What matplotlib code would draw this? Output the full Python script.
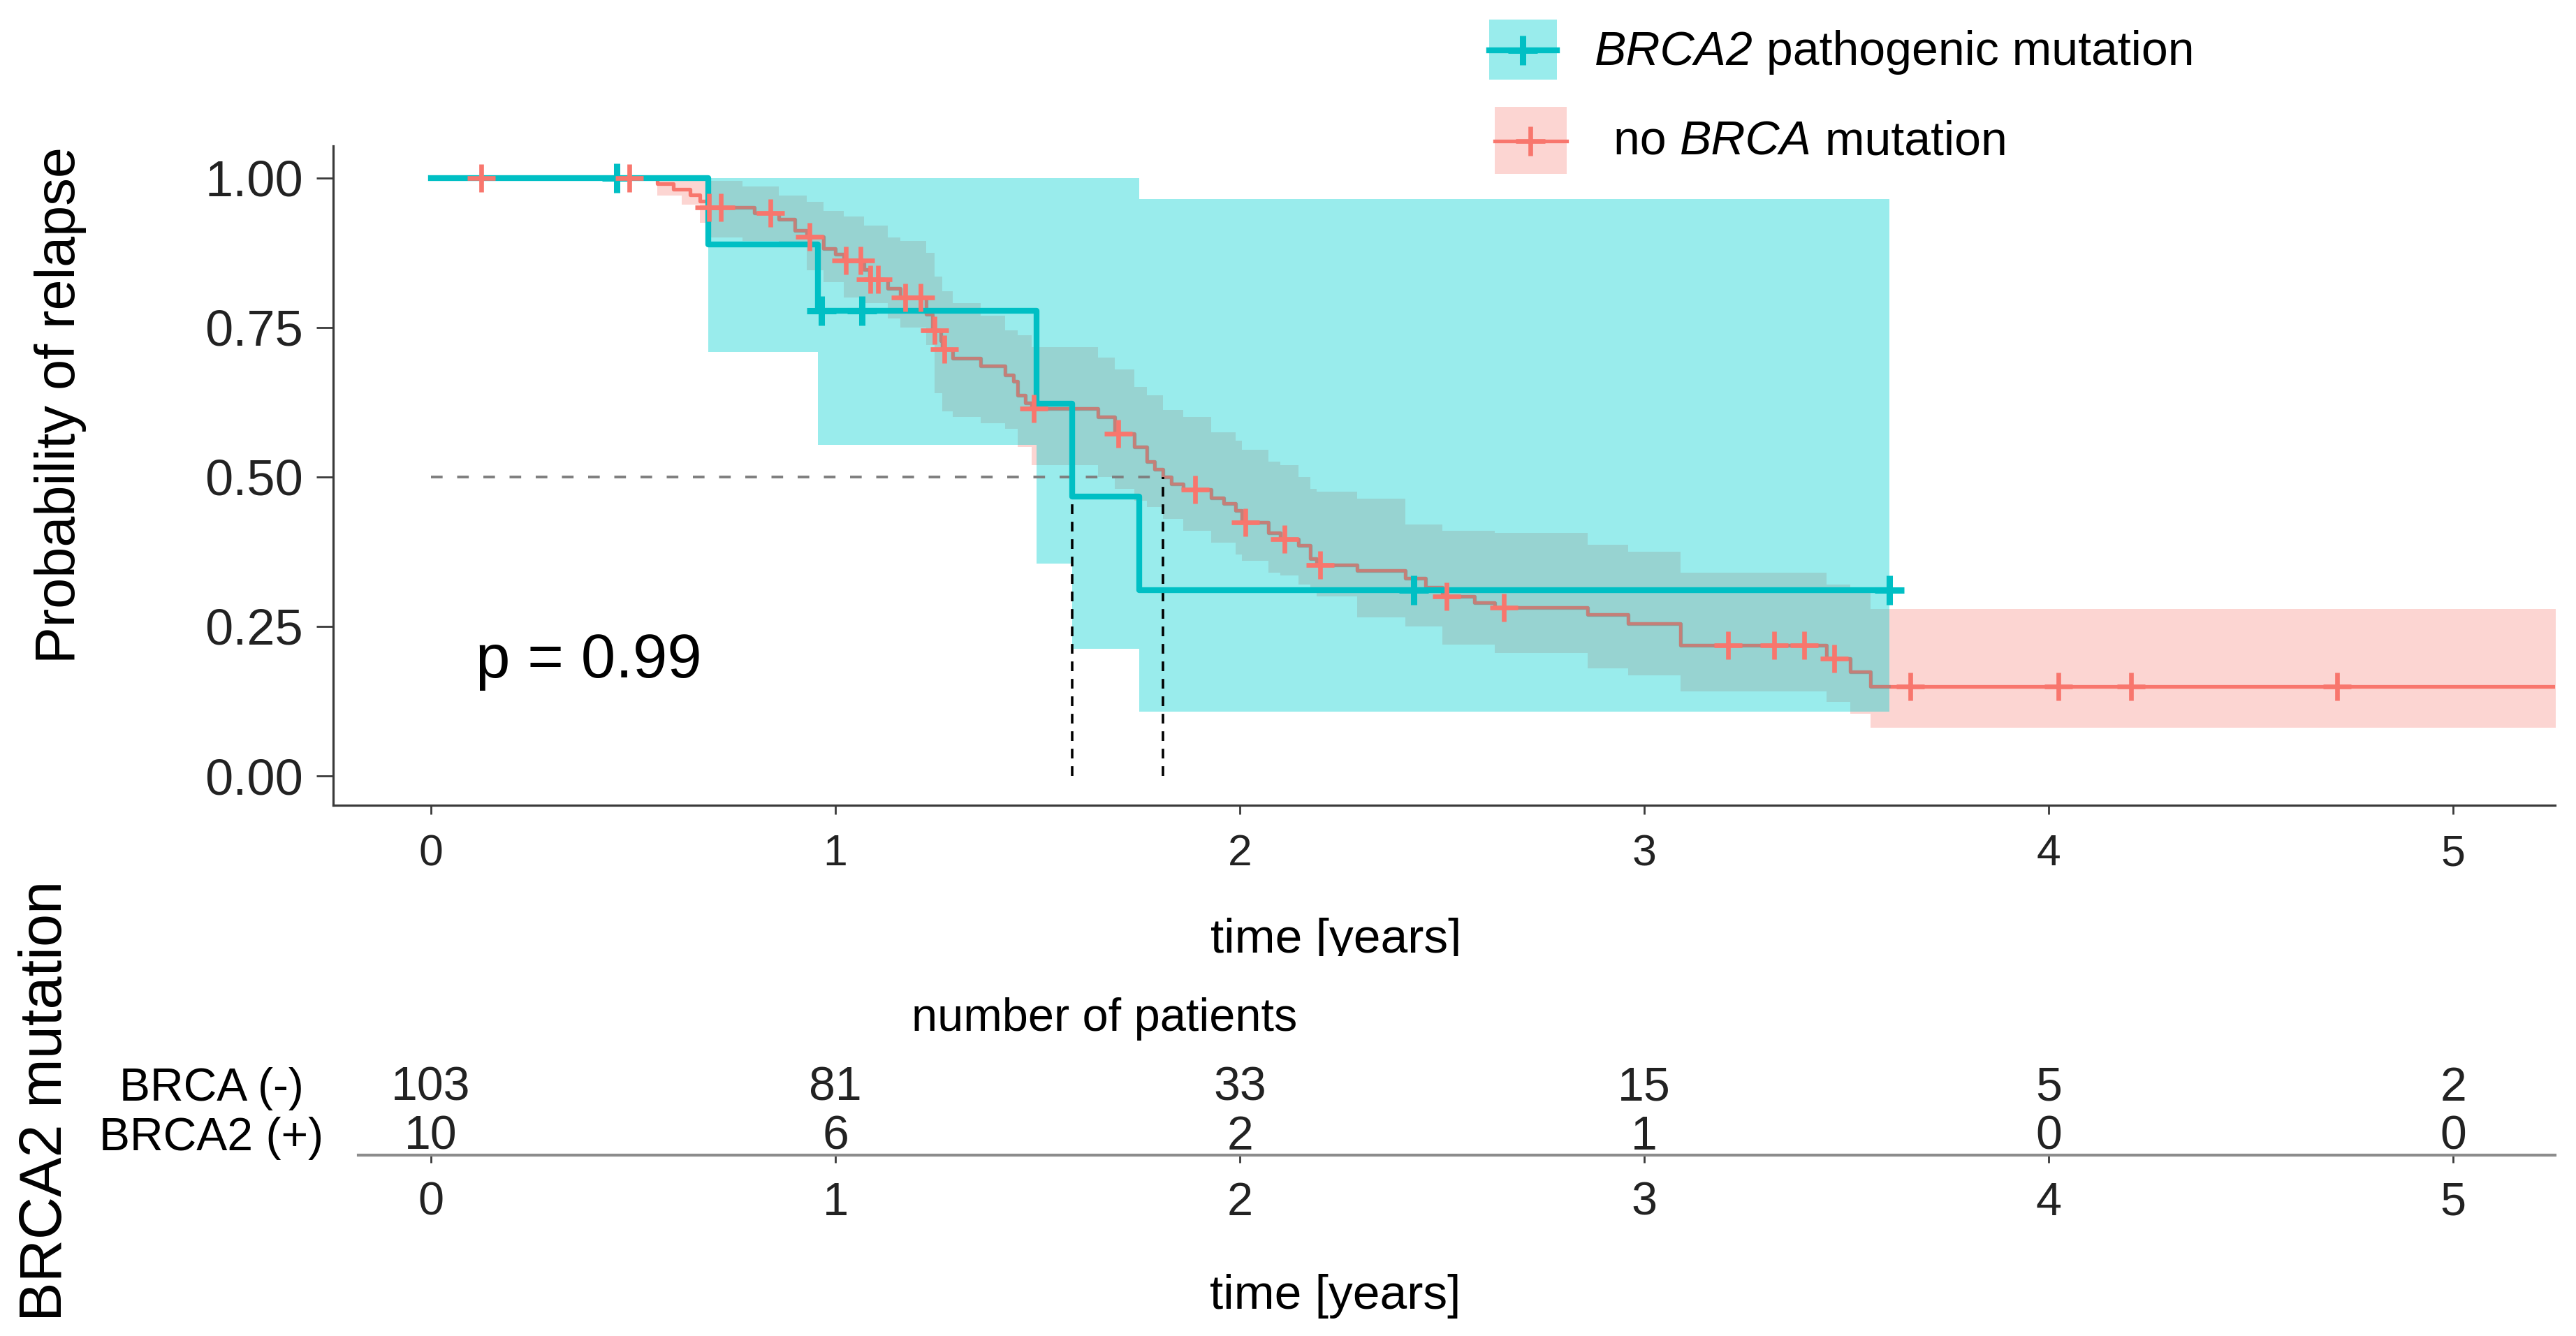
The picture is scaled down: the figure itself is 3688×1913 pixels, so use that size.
import numpy as np
import matplotlib
matplotlib.use("Agg")
import matplotlib.pyplot as plt
import matplotlib.transforms as mtransforms
from matplotlib.patches import Rectangle
from matplotlib.lines import Line2D

plt.rcParams['font.family'] = ['Liberation Sans', 'DejaVu Sans']
plt.rcParams['lines.scale_dashes'] = False

# ---------------- data ----------------
# BRCA2 pathogenic mutation (teal)
teal_event_times = [0.685, 0.957, 1.497, 1.586, 1.752]
teal_surv = [0.889, 0.778, 0.622, 0.467, 0.311]
teal_censor_times = [0.46, 0.966, 1.066, 2.43, 3.606]
teal_end = 3.606
teal_band_lo = [0.709, 0.553, 0.355, 0.212, 0.107]
teal_band_hi = [1.0, 1.0, 1.0, 1.0, 0.965]

# no BRCA mutation (salmon)
red_event_times = [0.56, 0.60, 0.64, 0.665, 0.685, 0.80, 0.86, 0.90, 0.93, 0.97,
                   1.00, 1.02, 1.07, 1.085, 1.13, 1.16, 1.225, 1.24, 1.26, 1.265,
                   1.29, 1.36, 1.42, 1.44, 1.45, 1.47, 1.485, 1.65, 1.69, 1.74,
                   1.77, 1.79, 1.81, 1.83, 1.86, 1.93, 1.96, 1.99, 2.005, 2.07,
                   2.10, 2.145, 2.175, 2.19, 2.29, 2.41, 2.46, 2.50, 2.58, 2.63,
                   2.86, 2.96, 3.09, 3.45, 3.51, 3.56]
red_surv = [0.990, 0.981, 0.971, 0.961, 0.951, 0.941, 0.931, 0.912, 0.902, 0.882,
            0.872, 0.862, 0.846, 0.830, 0.815, 0.800, 0.772, 0.745, 0.728, 0.713,
            0.698, 0.686, 0.670, 0.660, 0.636, 0.624, 0.614, 0.600, 0.572, 0.550,
            0.526, 0.513, 0.500, 0.488, 0.479, 0.465, 0.455, 0.444, 0.424, 0.406,
            0.396, 0.385, 0.363, 0.353, 0.343, 0.330, 0.315, 0.300, 0.290, 0.281,
            0.270, 0.254, 0.218, 0.196, 0.174, 0.149]
red_censor_times = [0.125, 0.49, 0.687, 0.717, 0.839, 0.936, 1.026, 1.063, 1.087, 1.105,
                    1.172, 1.211, 1.245, 1.269, 1.49, 1.699, 1.89, 2.014, 2.111, 2.199,
                    2.512, 2.652, 3.207, 3.322, 3.396, 3.47, 3.658, 4.024, 4.204, 4.713]
red_end = 5.3
red_band_times = [0.56, 0.62, 0.665, 0.685, 0.77, 0.86, 0.93, 0.97, 1.02, 1.07,
                  1.13, 1.16, 1.225, 1.245, 1.265, 1.29, 1.36, 1.42, 1.45, 1.485,
                  1.65, 1.69, 1.74, 1.77, 1.81, 1.86, 1.93, 1.99, 2.005, 2.07,
                  2.10, 2.145, 2.175, 2.19, 2.29, 2.41, 2.50, 2.63, 2.86, 2.96,
                  3.09, 3.45, 3.51, 3.56]
red_band_hi = [1.0, 1.0, 1.0, 0.995, 0.985, 0.97, 0.96, 0.945, 0.935, 0.92,
               0.90, 0.895, 0.875, 0.835, 0.81, 0.79, 0.77, 0.745, 0.737, 0.717,
               0.70, 0.68, 0.65, 0.636, 0.612, 0.60, 0.575, 0.56, 0.545, 0.525,
               0.52, 0.50, 0.48, 0.475, 0.463, 0.42, 0.41, 0.406, 0.387, 0.375,
               0.34, 0.32, 0.31, 0.279]
red_band_lo = [0.97, 0.955, 0.925, 0.90, 0.895, 0.89, 0.845, 0.826, 0.80, 0.79,
               0.765, 0.75, 0.72, 0.64, 0.61, 0.60, 0.59, 0.58, 0.55, 0.52,
               0.50, 0.48, 0.46, 0.45, 0.43, 0.41, 0.39, 0.37, 0.36, 0.34,
               0.335, 0.32, 0.31, 0.30, 0.265, 0.25, 0.22, 0.205, 0.18, 0.168,
               0.141, 0.124, 0.104, 0.08]

pval_text = "p = 0.99"

risk_times = [0, 1, 2, 3, 4, 5]
risk_brca_neg = [103, 81, 33, 15, 5, 2]
risk_brca2_pos = [10, 6, 2, 1, 0, 0]
risk_row_labels = ["BRCA (-)", "BRCA2 (+)"]

y_ticks = [0.0, 0.25, 0.50, 0.75, 1.00]
y_tick_labels = ["0.00", "0.25", "0.50", "0.75", "1.00"]
x_ticks = [0, 1, 2, 3, 4, 5]

# legend labels as (text, italic) pieces
legend_pieces = [[("BRCA2", True), (" pathogenic mutation", False)],
                 [("no ", False), ("BRCA", True), (" mutation", False)]]

TEAL = "#00BFC4"
TEAL_BAND = (0.0, 0.815, 0.815)
SALMON = "#F8766D"
AXCOL = "#3a3a3a"
TXT = "#222222"

# ---------------- helpers ----------------
W, H = 3688, 1913
DPI = 100
fig = plt.figure(figsize=(W / DPI, H / DPI), dpi=DPI)
fig.patch.set_facecolor("white")


def fx(px):
    return px / W


def fy(py):
    return 1 - py / H


def step_xy(times, vals, end, start_val=1.0):
    x = np.concatenate([[0.0], np.asarray(times, float), [end]])
    y = np.concatenate([[start_val], np.asarray(vals, float), [vals[-1]]])
    return x, y


def value_at(times, vals, t, start_val=1.0):
    idx = np.searchsorted(np.asarray(times), t, side="right") - 1
    return start_val if idx < 0 else vals[idx]


# ---------------- main axes ----------------
L, R, T, B = 477, 3658, 209, 1153
ax = fig.add_axes([fx(L), fy(B), fx(R) - fx(L), fy(T) - fy(B)])
X0, PXY = 617, 579.0
ax.set_xlim((L - X0) / PXY, (R - X0) / PXY)
Y0, PYU = 1111, 856.4
ax.set_ylim((Y0 - B) / PYU, (Y0 - T) / PYU)

# red confidence band
bx, bhi = step_xy(red_band_times, red_band_hi, red_end)
_, blo = step_xy(red_band_times, red_band_lo, red_end)
ax.fill_between(bx, blo, bhi, step="post", color=SALMON, alpha=0.3, lw=0, zorder=1)

# red curve
rx, ry = step_xy(red_event_times, red_surv, red_end)
ax.step(rx, ry, where="post", color=SALMON, lw=3.8, zorder=2)

# teal band
tbx, tbhi = step_xy(teal_event_times, teal_band_hi, teal_end)
_, tblo = step_xy(teal_event_times, teal_band_lo, teal_end)
ax.fill_between(tbx, tblo, tbhi, step="post", color=TEAL_BAND, alpha=0.4, lw=0, zorder=3)

# red curve shown through the teal band (muted tone)
mask = (rx >= teal_event_times[0]) & (rx <= teal_end)
sub_x = np.concatenate([[teal_event_times[0]], rx[mask], [teal_end]])
sub_y = np.concatenate([[value_at(red_event_times, red_surv, teal_event_times[0] - 1e-9)],
                        ry[mask], [value_at(red_event_times, red_surv, teal_end)]])
ax.step(sub_x, sub_y, where="post", color="#c47f78", lw=3.0, zorder=3.5)


# median lines
def median_time(times, vals):
    for t, v in zip(times, vals):
        if v <= 0.5:
            return t
    return None


medians = [median_time(teal_event_times, teal_surv), median_time(red_event_times, red_surv)]
ax.plot([0, max(medians)], [0.5, 0.5], color="#7f7f7f", lw=2.8, dashes=(12, 15), zorder=4)
for m in medians:
    ax.plot([m, m], [0, 0.5], color="black", lw=2.6, dashes=(10, 8), zorder=4)

# teal curve
tx, ty = step_xy(teal_event_times, teal_surv, teal_end)
ax.step(tx, ty, where="post", color=TEAL, lw=6, zorder=5)
tcy = [value_at(teal_event_times, teal_surv, t) for t in teal_censor_times]
ax.plot(teal_censor_times, tcy, ls="none", marker="+", ms=30, mew=6.5, color=TEAL, zorder=5.5)

# red censor marks
rcy = [value_at(red_event_times, red_surv, t) for t in red_censor_times]
ax.plot(red_censor_times, rcy, ls="none", marker="+", ms=29, mew=4.8, color=SALMON, zorder=6)

# p value
ax.text(0.11, 0.165, pval_text, fontsize=64, color="black", ha="left", va="baseline", zorder=7)

# axes styling
for s in ["top", "right"]:
    ax.spines[s].set_visible(False)
for s in ["left", "bottom"]:
    ax.spines[s].set_color(AXCOL)
    ax.spines[s].set_linewidth(2.3)
ax.set_yticks(y_ticks)
ax.set_yticklabels(y_tick_labels)
ax.set_xticks(x_ticks)
ax.tick_params(axis="y", length=17, width=2, color=AXCOL, pad=14, labelsize=52, labelcolor=TXT)
ax.tick_params(axis="x", length=9, width=2, color=AXCOL, pad=20, labelsize=45, labelcolor=TXT)
ax.set_facecolor("white")

fig.text(fx(87), fy(580), "Probability of relapse", rotation=90, ha="center", va="center",
         fontsize=57, color="black")
fig.text(fx(1913), fy(1364), "time [years]", ha="center", va="baseline", fontsize=50,
         color="black", zorder=-1)

# ---------------- risk table ----------------
RL, RR, RT, RB = 513, 3658, 1369, 1654
axr = fig.add_axes([fx(RL), fy(RB), fx(RR) - fx(RL), fy(RT) - fy(RB)])
axr.set_xlim((RL - X0) / PXY, (RR - X0) / PXY)
axr.set_ylim(0, 1)
axr.set_facecolor("white")
for s in ["top", "right", "left"]:
    axr.spines[s].set_visible(False)
axr.spines["bottom"].set_color("#8c8c8c")
axr.spines["bottom"].set_linewidth(3)
axr.set_yticks([])
axr.set_xticks(risk_times)
axr.tick_params(axis="x", length=8, width=2, color=AXCOL, pad=19, labelsize=48, labelcolor=TXT)

trans = mtransforms.blended_transform_factory(axr.transData, fig.transFigure)
for t, n1, n2 in zip(risk_times, risk_brca_neg, risk_brca2_pos):
    axr.text(t, fy(1576), str(n1), transform=trans, ha="center", va="baseline",
             fontsize=49, color=TXT, clip_on=False)
    axr.text(t, fy(1646), str(n2), transform=trans, ha="center", va="baseline",
             fontsize=49, color=TXT, clip_on=False)

fig.text(fx(303), fy(1576), risk_row_labels[0], ha="center", va="baseline", fontsize=47.5, color="black")
fig.text(fx(303), fy(1647), risk_row_labels[1], ha="center", va="baseline", fontsize=47.5, color="black")
fig.text(fx(1581), fy(1476), "number of patients", ha="center", va="baseline", fontsize=48,
         color="black", zorder=5)
fig.text(fx(1912), fy(1874), "time [years]", ha="center", va="baseline", fontsize=50, color="black")
fig.text(fx(66), fy(1576), "BRCA2 mutation", rotation=90, ha="center", va="center", fontsize=61,
         color="black")

# ---------------- legend ----------------
fig.patches.append(Rectangle((fx(2132), fy(114)), fx(97), 86 / H, transform=fig.transFigure,
                             facecolor=TEAL_BAND, alpha=0.4, lw=0))
fig.lines.append(Line2D([fx(2132), fx(2229)], [fy(72), fy(72)], transform=fig.transFigure,
                        color=TEAL, lw=6))
fig.lines.append(Line2D([fx(2180)], [fy(72)], transform=fig.transFigure, color=TEAL,
                        marker="+", ms=30, mew=6.5, ls="none"))
fig.patches.append(Rectangle((fx(2140), fy(249)), fx(103), 96 / H, transform=fig.transFigure,
                             facecolor=SALMON, alpha=0.3, lw=0))
fig.lines.append(Line2D([fx(2140), fx(2243)], [fy(202), fy(202)], transform=fig.transFigure,
                        color=SALMON, lw=3.8))
fig.lines.append(Line2D([fx(2191)], [fy(202)], transform=fig.transFigure, color=SALMON,
                        marker="+", ms=30, mew=4.8, ls="none"))

renderer = fig.canvas.get_renderer()
legend_pos = [(2283, 93), (2310, 222)]
for pieces, (px0, py0) in zip(legend_pieces, legend_pos):
    xcur = px0
    for txt, ital in pieces:
        t = fig.text(fx(xcur), fy(py0), txt, ha="left", va="baseline", fontsize=49,
                     color="black", style="italic" if ital else "normal")
        bb = t.get_window_extent(renderer=renderer)
        xcur += bb.width

fig.savefig("out.png", dpi=DPI, facecolor="white")
